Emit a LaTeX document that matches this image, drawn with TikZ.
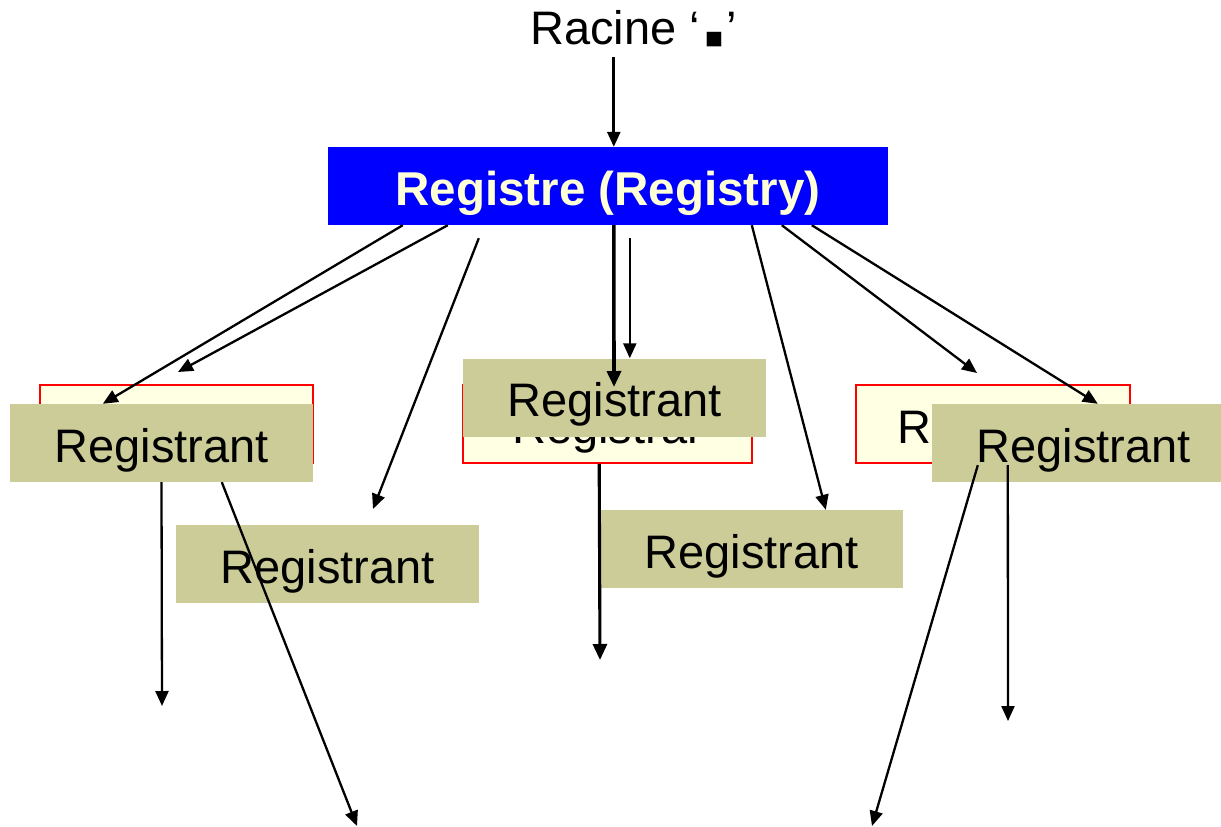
\documentclass[tikz,border=0pt]{standalone}
\usepackage{fontspec}
\setmainfont{Liberation Sans}
\newfontfamily\symfont{DejaVu Sans}
\usetikzlibrary{arrows.meta,calc}

\definecolor{regblue}{RGB}{0,0,255}
\definecolor{regtext}{RGB}{255,255,215}
\definecolor{rarfill}{RGB}{255,255,228}
\definecolor{rntfill}{RGB}{204,204,153}

\tikzset{
  label font/.style={font=\fontsize{47pt}{50pt}\selectfont},
  boxtext/.style={label font, inner sep=0pt, text height=40pt, text depth=2pt, minimum height=78pt},
  registry/.style={boxtext, fill=regblue, text=regtext, font=\fontsize{47.5pt}{50pt}\selectfont\bfseries, minimum width=560pt},
  registrar/.style={boxtext, fill=rarfill, draw=red, line width=1.6pt},
  registrant/.style={boxtext, fill=rntfill, minimum width=303pt},
  link/.style={line width=2.3pt, -{Triangle[length=15pt,width=13pt]}},
  thicklink/.style={line width=3.6pt, -{Triangle[length=16pt,width=14pt]}}
}

\begin{document}
\begin{tikzpicture}[x=1pt,y=-1pt]
  \useasboundingbox (0,0) rectangle (1221,827);
  \clip (0,0) rectangle (1221,827);

  % root label
  \node[label font, anchor=base west, inner sep=0pt] (racine) at (530,44)
    {Racine ‘\hspace{5pt}{\symfont\fontsize{19pt}{20pt}\selectfont ■}\hspace{4pt}’};

  % registrars (partly hidden behind the registrants)
  \node[registrar, minimum width=273pt] (rr1) at (176.5,424) {Registrar};
  \node[registrar, minimum width=289pt] (rr2) at (607.5,424) {Registrar};
  \node[registrar, minimum width=274pt] (rr3) at (993,424) {Registrar};

  % registrants
  \node[registrant] (rt1) at (161.5,443) {Registrant};
  \node[registrant] (rt2) at (327.5,564) {Registrant};
  \node[registrant] (rt3) at (614.5,397.5) {Registrant};
  \node[registrant] (rt4) at (751.5,549) {Registrant};
  \node[registrant] (rt5) at (1083.5,443) {Registrant};

  % registry
  \node[registry] (reg) at (608,186) {Registre (Registry)};

  % free ends of the connectors
  \coordinate (rootend) at ($(reg.north west)+(286,-90)$);
  \coordinate (s4) at ($(reg.south west)+(151,13)$);
  \coordinate (s6) at ($(reg.south west)+(302,13)$);
  \coordinate (e3) at (178,372);
  \coordinate (e4) at (373,509);
  \coordinate (e5) at (614,387);
  \coordinate (e8) at (977,373);
  \coordinate (e10) at (162,706);
  \coordinate (e11) at (357,826);
  \coordinate (e12) at (600,660);
  \coordinate (e13) at (872,826);
  \coordinate (e14) at (1008,721);

  % root to registry
  \draw[link, line width=2.7pt] (rootend) -- ($(reg.north west)+(286,0)$);

  % registry to registrars / registrants
  \draw[link] ($(reg.south west)+(75,0)$) -- ($(rt1.north west)+(93,0)$);
  \draw[link] ($(reg.south west)+(120,0)$) -- (e3);
  \draw[link] (s4) -- (e4);
  \draw[thicklink] ($(reg.south west)+(286,0)$) -- (e5);
  \draw[link] (s6) -- ($(rt3.north west)+(167,0)$);
  \draw[link] ($(reg.south west)+(424,0)$) -- ($(rt4.north west)+(226,0)$);
  \draw[link] ($(reg.south west)+(454,0)$) -- (e8);
  \draw[link] ($(reg.south west)+(484,0)$) -- ($(rt5.north west)+(166,0)$);

  % onward links below
  \draw[link] (rt1.south) -- (e10);
  \draw[link] ($(rt1.south west)+(212,0)$) -- (e11);
  \draw[thicklink, line width=3.1pt] ($(rr2.south west)+(137,0)$) -- (e12);
  \draw[link] ($(rt5.south west)+(46,-17)$) -- (e13);
  \draw[link] ($(rt5.south west)+(76,-17)$) -- (e14);
\end{tikzpicture}
\end{document}
